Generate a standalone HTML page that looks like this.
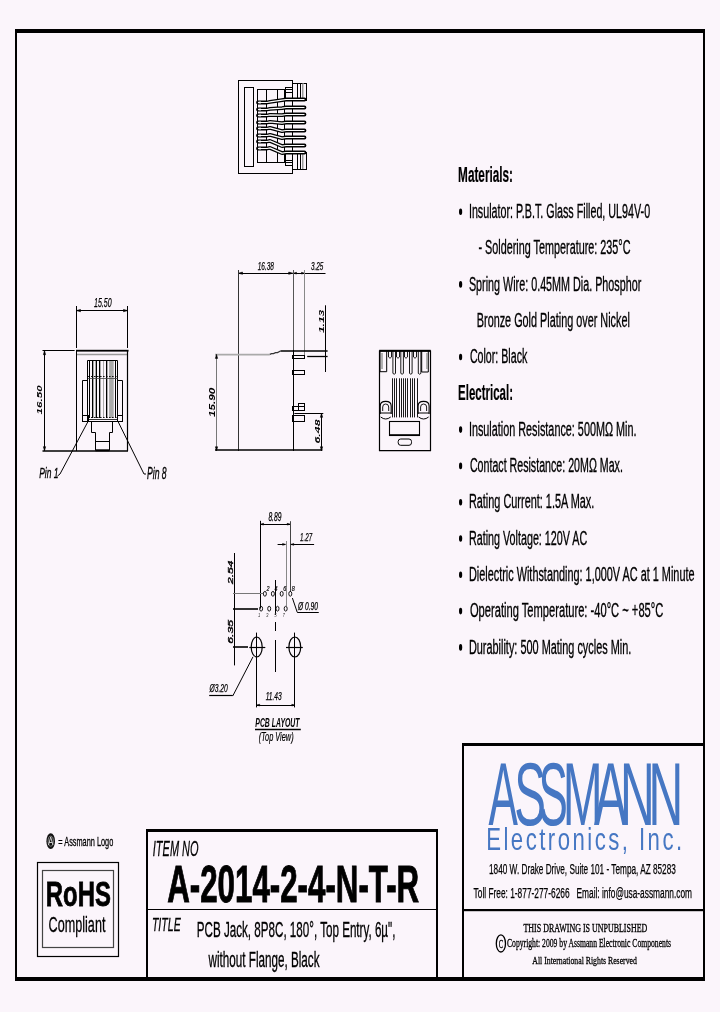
<!DOCTYPE html>
<html><head><meta charset="utf-8"><title>A-2014-2-4-N-T-R</title>
<style>html,body{margin:0;padding:0;background:#fbf5fb;}body{width:720px;height:1012px;overflow:hidden;}svg{display:block;will-change:transform}</style>
</head><body>
<svg width="720" height="1012" viewBox="0 0 720 1012">
<rect width="720" height="1012" fill="#fbf5fb"/>
<rect x="15" y="29" width="690" height="4" fill="#000"/>
<rect x="15" y="29" width="2" height="952" fill="#000"/>
<rect x="703" y="29" width="2" height="952" fill="#000"/>
<rect x="15" y="977" width="690" height="4" fill="#000"/>
<text x="458.1" y="181.7" font-family="Liberation Sans" font-size="21.22" font-weight="bold" font-style="normal" fill="#000" stroke="#000" stroke-width="0.2" textLength="54.88" lengthAdjust="spacingAndGlyphs" >Materials:</text>
<text x="468.9" y="218.0" font-family="Liberation Sans" font-size="19.77" font-weight="normal" font-style="normal" fill="#000" stroke="#000" stroke-width="0.35" textLength="181.23" lengthAdjust="spacingAndGlyphs" >Insulator: P.B.T. Glass Filled, UL94V-0</text>
<ellipse cx="460.6" cy="211.8" rx="1.6" ry="3.3" stroke="#000" stroke-width="0" fill="#000"/>
<text x="478.5" y="254.3" font-family="Liberation Sans" font-size="19.77" font-weight="normal" font-style="normal" fill="#000" stroke="#000" stroke-width="0.35" textLength="152.0" lengthAdjust="spacingAndGlyphs" >- Soldering Temperature: 235°C</text>
<text x="468.9" y="290.6" font-family="Liberation Sans" font-size="19.77" font-weight="normal" font-style="normal" fill="#000" stroke="#000" stroke-width="0.35" textLength="172.41" lengthAdjust="spacingAndGlyphs" >Spring Wire: 0.45MM Dia. Phosphor</text>
<ellipse cx="460.6" cy="284.40000000000003" rx="1.6" ry="3.3" stroke="#000" stroke-width="0" fill="#000"/>
<text x="476.8" y="326.9" font-family="Liberation Sans" font-size="19.77" font-weight="normal" font-style="normal" fill="#000" stroke="#000" stroke-width="0.35" textLength="153.03" lengthAdjust="spacingAndGlyphs" >Bronze Gold Plating over Nickel</text>
<text x="469.9" y="363.2" font-family="Liberation Sans" font-size="19.77" font-weight="normal" font-style="normal" fill="#000" stroke="#000" stroke-width="0.35" textLength="57.4" lengthAdjust="spacingAndGlyphs" >Color: Black</text>
<ellipse cx="460.6" cy="357.0" rx="1.6" ry="3.3" stroke="#000" stroke-width="0" fill="#000"/>
<text x="458.1" y="399.5" font-family="Liberation Sans" font-size="21.22" font-weight="bold" font-style="normal" fill="#000" stroke="#000" stroke-width="0.2" textLength="54.88" lengthAdjust="spacingAndGlyphs" >Electrical:</text>
<text x="468.9" y="435.8" font-family="Liberation Sans" font-size="19.77" font-weight="normal" font-style="normal" fill="#000" stroke="#000" stroke-width="0.35" textLength="167.62" lengthAdjust="spacingAndGlyphs" >Insulation Resistance: 500MΩ Min.</text>
<ellipse cx="460.6" cy="429.6" rx="1.6" ry="3.3" stroke="#000" stroke-width="0" fill="#000"/>
<text x="469.9" y="472.1" font-family="Liberation Sans" font-size="19.77" font-weight="normal" font-style="normal" fill="#000" stroke="#000" stroke-width="0.35" textLength="153.01" lengthAdjust="spacingAndGlyphs" >Contact Resistance: 20MΩ Max.</text>
<ellipse cx="460.6" cy="465.90000000000003" rx="1.6" ry="3.3" stroke="#000" stroke-width="0" fill="#000"/>
<text x="468.9" y="508.4" font-family="Liberation Sans" font-size="19.77" font-weight="normal" font-style="normal" fill="#000" stroke="#000" stroke-width="0.35" textLength="125.43" lengthAdjust="spacingAndGlyphs" >Rating Current: 1.5A Max.</text>
<ellipse cx="460.6" cy="502.2" rx="1.6" ry="3.3" stroke="#000" stroke-width="0" fill="#000"/>
<text x="468.9" y="544.7" font-family="Liberation Sans" font-size="19.77" font-weight="normal" font-style="normal" fill="#000" stroke="#000" stroke-width="0.35" textLength="118.41" lengthAdjust="spacingAndGlyphs" >Rating Voltage: 120V AC</text>
<ellipse cx="460.6" cy="538.5" rx="1.6" ry="3.3" stroke="#000" stroke-width="0" fill="#000"/>
<text x="468.9" y="581.0" font-family="Liberation Sans" font-size="19.77" font-weight="normal" font-style="normal" fill="#000" stroke="#000" stroke-width="0.35" textLength="225.62" lengthAdjust="spacingAndGlyphs" >Dielectric Withstanding: 1,000V AC at 1 Minute</text>
<ellipse cx="460.6" cy="574.8" rx="1.6" ry="3.3" stroke="#000" stroke-width="0" fill="#000"/>
<text x="469.9" y="617.3" font-family="Liberation Sans" font-size="19.77" font-weight="normal" font-style="normal" fill="#000" stroke="#000" stroke-width="0.35" textLength="193.4" lengthAdjust="spacingAndGlyphs" >Operating Temperature: -40°C ~ +85°C</text>
<ellipse cx="460.6" cy="611.0999999999999" rx="1.6" ry="3.3" stroke="#000" stroke-width="0" fill="#000"/>
<text x="468.9" y="653.6" font-family="Liberation Sans" font-size="19.77" font-weight="normal" font-style="normal" fill="#000" stroke="#000" stroke-width="0.35" textLength="162.42" lengthAdjust="spacingAndGlyphs" >Durability: 500 Mating cycles Min.</text>
<ellipse cx="460.6" cy="647.4" rx="1.6" ry="3.3" stroke="#000" stroke-width="0" fill="#000"/>
<rect x="238.5" y="80.5" width="54.0" height="93.0" stroke="#000" stroke-width="1" fill="none" />
<rect x="244.5" y="87.5" width="9.0" height="79.0" stroke="#000" stroke-width="1" fill="none" />
<rect x="257.5" y="89.5" width="35.0" height="73.0" stroke="#000" stroke-width="1" fill="none" />
<line x1="266.5" y1="89.5" x2="266.5" y2="162.5" stroke="#000" stroke-width="1" />
<line x1="277.5" y1="89.5" x2="277.5" y2="162.5" stroke="#000" stroke-width="1" />
<line x1="284.5" y1="89.5" x2="284.5" y2="162.5" stroke="#000" stroke-width="1" />
<rect x="292.5" y="83.5" width="14.0" height="17.0" stroke="#000" stroke-width="1" fill="none" />
<rect x="292.5" y="152.5" width="14.0" height="17.0" stroke="#000" stroke-width="1" fill="none" />
<line x1="297.5" y1="83.5" x2="297.5" y2="99" stroke="#000" stroke-width="1" />
<line x1="297.5" y1="153" x2="297.5" y2="169" stroke="#000" stroke-width="1" />
<line x1="300.5" y1="83.5" x2="300.5" y2="99" stroke="#000" stroke-width="1" />
<line x1="300.5" y1="153" x2="300.5" y2="169" stroke="#000" stroke-width="1" />
<line x1="302.5" y1="83.5" x2="302.5" y2="99" stroke="#999" stroke-width="1" />
<line x1="302.5" y1="153" x2="302.5" y2="169" stroke="#999" stroke-width="1" />
<line x1="303.5" y1="83.5" x2="303.5" y2="99" stroke="#ccc" stroke-width="1" />
<line x1="303.5" y1="153" x2="303.5" y2="169" stroke="#ccc" stroke-width="1" />
<line x1="285.5" y1="92.5" x2="285.5" y2="100" stroke="#000" stroke-width="1" />
<line x1="285.5" y1="153" x2="285.5" y2="160.5" stroke="#000" stroke-width="1" />
<rect x="285.5" y="87.5" width="7.0" height="5.0" stroke="#000" stroke-width="1" fill="none" />
<rect x="285.5" y="160.5" width="7.0" height="5.0" stroke="#000" stroke-width="1" fill="none" />
<path d="M258,102.5 H267 L270,101.9 L282,100.1 L286,99.5 H304.5" stroke="#000" stroke-width="3.8" fill="none" stroke-linecap="round" stroke-linejoin="round"/>
<path d="M258,102.5 H267 L270,101.9 L282,100.1 L286,99.5 H304.5" stroke="#fff" stroke-width="1.2" fill="none" stroke-linejoin="round"/>
<rect x="258.5" y="101.6" width="2.5" height="1.8" fill="#fff"/>
<path d="M258,109.5 H267 L270,108.9 L282,108.1 L286,107.5 H304.5" stroke="#000" stroke-width="3.8" fill="none" stroke-linecap="round" stroke-linejoin="round"/>
<path d="M258,109.5 H267 L270,108.9 L282,108.1 L286,107.5 H304.5" stroke="#fff" stroke-width="1.2" fill="none" stroke-linejoin="round"/>
<rect x="258.5" y="108.6" width="2.5" height="1.8" fill="#fff"/>
<path d="M258,115.5 H267 L270,114.9 L282,115.1 L286,114.5 H304.5" stroke="#000" stroke-width="3.8" fill="none" stroke-linecap="round" stroke-linejoin="round"/>
<path d="M258,115.5 H267 L270,114.9 L282,115.1 L286,114.5 H304.5" stroke="#fff" stroke-width="1.2" fill="none" stroke-linejoin="round"/>
<rect x="258.5" y="114.6" width="2.5" height="1.8" fill="#fff"/>
<path d="M258,122.5 H267 L270,121.9 L282,123.1 L286,122.5 H304.5" stroke="#000" stroke-width="3.8" fill="none" stroke-linecap="round" stroke-linejoin="round"/>
<path d="M258,122.5 H267 L270,121.9 L282,123.1 L286,122.5 H304.5" stroke="#fff" stroke-width="1.2" fill="none" stroke-linejoin="round"/>
<rect x="258.5" y="121.6" width="2.5" height="1.8" fill="#fff"/>
<path d="M258,128.5 H267 L270,127.9 L282,131.1 L286,130.5 H304.5" stroke="#000" stroke-width="3.8" fill="none" stroke-linecap="round" stroke-linejoin="round"/>
<path d="M258,128.5 H267 L270,127.9 L282,131.1 L286,130.5 H304.5" stroke="#fff" stroke-width="1.2" fill="none" stroke-linejoin="round"/>
<rect x="258.5" y="127.6" width="2.5" height="1.8" fill="#fff"/>
<path d="M258,135.5 H267 L270,134.9 L282,138.1 L286,137.5 H304.5" stroke="#000" stroke-width="3.8" fill="none" stroke-linecap="round" stroke-linejoin="round"/>
<path d="M258,135.5 H267 L270,134.9 L282,138.1 L286,137.5 H304.5" stroke="#fff" stroke-width="1.2" fill="none" stroke-linejoin="round"/>
<rect x="258.5" y="134.6" width="2.5" height="1.8" fill="#fff"/>
<path d="M258,141.5 H267 L270,140.9 L282,146.1 L286,145.5 H304.5" stroke="#000" stroke-width="3.8" fill="none" stroke-linecap="round" stroke-linejoin="round"/>
<path d="M258,141.5 H267 L270,140.9 L282,146.1 L286,145.5 H304.5" stroke="#fff" stroke-width="1.2" fill="none" stroke-linejoin="round"/>
<rect x="258.5" y="140.6" width="2.5" height="1.8" fill="#fff"/>
<path d="M258,148.5 H267 L270,147.9 L282,153.1 L286,152.5 H304.5" stroke="#000" stroke-width="3.8" fill="none" stroke-linecap="round" stroke-linejoin="round"/>
<path d="M258,148.5 H267 L270,147.9 L282,153.1 L286,152.5 H304.5" stroke="#fff" stroke-width="1.2" fill="none" stroke-linejoin="round"/>
<rect x="258.5" y="147.6" width="2.5" height="1.8" fill="#fff"/>
<text x="94" y="307.4" font-family="Liberation Sans" font-size="12.79" font-weight="normal" font-style="italic" fill="#000" stroke="#000" stroke-width="0.25" textLength="17.63" lengthAdjust="spacingAndGlyphs" >15.50</text>
<line x1="76.5" y1="310.5" x2="127.5" y2="310.5" stroke="#000" stroke-width="1" />
<path d="M76.5,310.6 L80.50,309.48 L80.50,311.72Z" stroke="#000" stroke-width="0.6" fill="#000" />
<path d="M127.5,310.6 L123.50,311.72 L123.50,309.48Z" stroke="#000" stroke-width="0.6" fill="#000" />
<line x1="76.5" y1="306" x2="76.5" y2="348" stroke="#000" stroke-width="1" />
<line x1="127.5" y1="306" x2="127.5" y2="348" stroke="#000" stroke-width="1" />
<rect x="76" y="349.8" width="52.5" height="1.8" fill="#000"/>
<line x1="42.5" y1="350.5" x2="74.6" y2="350.5" stroke="#000" stroke-width="1.2" />
<line x1="76.5" y1="354.5" x2="127.5" y2="354.5" stroke="#999" stroke-width="1.4" />
<line x1="76.5" y1="350" x2="76.5" y2="451" stroke="#000" stroke-width="1" />
<line x1="127.5" y1="350" x2="127.5" y2="451" stroke="#000" stroke-width="1.2" />
<line x1="42.5" y1="451" x2="128" y2="451" stroke="#000" stroke-width="1.6" />
<line x1="44.5" y1="350.7" x2="44.5" y2="450.7" stroke="#000" stroke-width="1" />
<path d="M44.5,350.7 L45.62,354.70 L43.38,354.70Z" stroke="#000" stroke-width="0.6" fill="#000" />
<path d="M44.5,450.7 L43.38,446.70 L45.62,446.70Z" stroke="#000" stroke-width="0.6" fill="#000" />
<text x="42.4" y="414.4" transform="rotate(-90 42.4 414.4)" font-family="Liberation Sans" font-size="7.7" font-weight="bold" font-style="italic" fill="#000" textLength="29.0" lengthAdjust="spacingAndGlyphs" >16.50</text>
<path d="M87.5,421.5 V360.5 H117.5 V421.5" stroke="#000" stroke-width="1" fill="none" />
<path d="M87.5,380.5 H82.5 V421.5 H122.5 V380.5 H117.5" stroke="#000" stroke-width="1" fill="none" />
<rect x="82.5" y="415.5" width="6.0" height="6.0" stroke="#000" stroke-width="1" fill="none" />
<rect x="117.5" y="415.5" width="5.0" height="6.0" stroke="#000" stroke-width="1" fill="none" />
<rect x="109.1" y="361" width="4.6" height="57" fill="#aaa"/>
<line x1="89.5" y1="361" x2="89.5" y2="418" stroke="#000" stroke-width="1" />
<line x1="92.5" y1="361" x2="92.5" y2="418" stroke="#000" stroke-width="1" />
<line x1="96.5" y1="361" x2="96.5" y2="418" stroke="#000" stroke-width="1" />
<line x1="99.5" y1="361" x2="99.5" y2="418" stroke="#000" stroke-width="1" />
<line x1="103.5" y1="361" x2="103.5" y2="418" stroke="#000" stroke-width="1" />
<line x1="106.5" y1="361" x2="106.5" y2="418" stroke="#000" stroke-width="1" />
<line x1="115.5" y1="361" x2="115.5" y2="418" stroke="#000" stroke-width="1" />
<line x1="93.5" y1="361" x2="93.5" y2="418" stroke="#aaa" stroke-width="1" />
<line x1="95.5" y1="361" x2="95.5" y2="418" stroke="#aaa" stroke-width="1" />
<line x1="100.5" y1="361" x2="100.5" y2="418" stroke="#aaa" stroke-width="1" />
<line x1="103.5" y1="361" x2="103.5" y2="418" stroke="#aaa" stroke-width="1" />
<line x1="107.5" y1="361" x2="107.5" y2="418" stroke="#aaa" stroke-width="1" />
<line x1="88" y1="376.5" x2="117.6" y2="376.5" stroke="#000" stroke-width="0.9" stroke-dasharray="1.6,1.4"/>
<line x1="88" y1="378.5" x2="117.6" y2="378.5" stroke="#444" stroke-width="0.8" />
<line x1="88" y1="417.5" x2="117.6" y2="417.5" stroke="#000" stroke-width="0.9" stroke-dasharray="1.6,1.4"/>
<line x1="88" y1="419.5" x2="117.6" y2="419.5" stroke="#000" stroke-width="0.8" />
<path d="M91.5,421.5 V432.5 H95.5 V450.5 M112.5,421.5 V432.5 H109.5 V450.5" stroke="#000" stroke-width="1" fill="none" />
<line x1="95.5" y1="441.5" x2="109.5" y2="441.5" stroke="#000" stroke-width="1" />
<rect x="95.5" y="449.3" width="14" height="2" fill="#000"/>
<text x="39.2" y="478.4" font-family="Liberation Sans" font-size="15.55" font-weight="normal" font-style="italic" fill="#000" stroke="#000" stroke-width="0.35" textLength="19.24" lengthAdjust="spacingAndGlyphs" >Pin 1</text>
<path d="M57.5,476 L60,474 L88,421.5" stroke="#000" stroke-width="1" fill="none" />
<text x="147" y="478.6" font-family="Liberation Sans" font-size="15.7" font-weight="normal" font-style="italic" fill="#000" stroke="#000" stroke-width="0.35" textLength="19.62" lengthAdjust="spacingAndGlyphs" >Pin 8</text>
<path d="M144,474 H146 M144,474 L117.7,420.8" stroke="#000" stroke-width="1" fill="none" />
<text x="257.7" y="270.3" font-family="Liberation Sans" font-size="11.63" font-weight="normal" font-style="italic" fill="#000" stroke="#000" stroke-width="0.25" textLength="16.2" lengthAdjust="spacingAndGlyphs" >16.38</text>
<text x="310.9" y="270.3" font-family="Liberation Sans" font-size="11.63" font-weight="normal" font-style="italic" fill="#000" stroke="#000" stroke-width="0.25" textLength="12.45" lengthAdjust="spacingAndGlyphs" >3.25</text>
<line x1="238.5" y1="273.5" x2="292.7" y2="273.5" stroke="#000" stroke-width="1" />
<path d="M238.5,273.2 L242.50,272.08 L242.50,274.32Z" stroke="#000" stroke-width="0.6" fill="#000" />
<path d="M292.7,273.2 L288.70,274.32 L288.70,272.08Z" stroke="#000" stroke-width="0.6" fill="#000" />
<line x1="293.5" y1="273.5" x2="304.5" y2="273.5" stroke="#000" stroke-width="1" />
<path d="M293.5,273.2 L296.50,272.36 L296.50,274.04Z" stroke="#000" stroke-width="0.6" fill="#000" />
<path d="M304.5,273.2 L301.50,274.04 L301.50,272.36Z" stroke="#000" stroke-width="0.6" fill="#000" />
<line x1="304.5" y1="273.5" x2="325.5" y2="273.5" stroke="#000" stroke-width="1" />
<line x1="238.5" y1="270" x2="238.5" y2="451" stroke="#333" stroke-width="1" />
<line x1="293.5" y1="270" x2="293.5" y2="350" stroke="#555" stroke-width="1" />
<line x1="293.5" y1="350" x2="293.5" y2="451" stroke="#000" stroke-width="1" />
<line x1="304.5" y1="270" x2="304.5" y2="357" stroke="#888" stroke-width="1" />
<path d="M215,354.6 H269.8" stroke="#aaa" stroke-width="1.8" fill="none" />
<path d="M269.8,354.4 L271.5,353.6 H273.5 L275.5,352.6 H277.5 L280.5,351 " stroke="#333" stroke-width="1.2" fill="none" />
<line x1="280.5" y1="351" x2="327.6" y2="351" stroke="#000" stroke-width="1.6" />
<rect x="292.5" y="355.5" width="12.0" height="3.0" stroke="#000" stroke-width="1" fill="none" />
<rect x="292.5" y="370.5" width="12.0" height="4.0" stroke="#000" stroke-width="1" fill="none" />
<rect x="292.5" y="406.5" width="12.0" height="4.0" stroke="#000" stroke-width="1" fill="none" />
<rect x="298.5" y="403.5" width="6.0" height="7.0" stroke="#000" stroke-width="1" fill="none" />
<rect x="292.5" y="415.5" width="12.0" height="6.0" stroke="#000" stroke-width="1" fill="none" />
<line x1="325.5" y1="305.3" x2="325.5" y2="372" stroke="#000" stroke-width="1" />
<line x1="307.2" y1="356.5" x2="327.6" y2="356.5" stroke="#000" stroke-width="1.3" />
<text x="324.1" y="333.1" transform="rotate(-90 324.1 333.1)" font-family="Liberation Sans" font-size="7.85" font-weight="bold" font-style="italic" fill="#000" textLength="23.4" lengthAdjust="spacingAndGlyphs" >1.13</text>
<line x1="294.4" y1="413.5" x2="323.3" y2="413.5" stroke="#000" stroke-width="1" />
<line x1="321.5" y1="413.3" x2="321.5" y2="450.8" stroke="#000" stroke-width="1" />
<path d="M321.5,413.3 L322.62,417.30 L320.38,417.30Z" stroke="#000" stroke-width="0.6" fill="#000" />
<path d="M321.5,450.8 L320.38,446.80 L322.62,446.80Z" stroke="#000" stroke-width="0.6" fill="#000" />
<text x="320.2" y="443.5" transform="rotate(-90 320.2 443.5)" font-family="Liberation Sans" font-size="7.41" font-weight="bold" font-style="italic" fill="#000" textLength="24.07" lengthAdjust="spacingAndGlyphs" >6.48</text>
<line x1="216.5" y1="354.4" x2="216.5" y2="450.8" stroke="#777" stroke-width="1" />
<path d="M216.5,354.4 L217.62,358.40 L215.38,358.40Z" stroke="#000" stroke-width="0.6" fill="#000" />
<path d="M216.5,450.8 L215.38,446.80 L217.62,446.80Z" stroke="#000" stroke-width="0.6" fill="#000" />
<text x="214.9" y="416.9" transform="rotate(-90 214.9 416.9)" font-family="Liberation Sans" font-size="8.43" font-weight="bold" font-style="italic" fill="#000" textLength="29.21" lengthAdjust="spacingAndGlyphs" >15.90</text>
<line x1="215" y1="450" x2="322.4" y2="450" stroke="#000" stroke-width="1.6" />
<path d="M379.5,351 H430.5 V450.7 H379.5 Z" stroke="#000" stroke-width="1.2" fill="none" />
<rect x="379.2" y="349.8" width="51.5" height="2" fill="#000"/>
<path d="M380,351 V371.7 H386.7 V351" stroke="#000" stroke-width="1" fill="none" />
<line x1="382" y1="353" x2="382" y2="369" stroke="#999" stroke-width="1.5" />
<path d="M421.7,351 V372 H428.3 V351" stroke="#000" stroke-width="1" fill="none" />
<line x1="427" y1="353" x2="427" y2="369" stroke="#999" stroke-width="1.5" />
<path d="M392.9,351 V373.4 Q394.2,375 395.5,373.4 V351" stroke="#000" stroke-width="0.9" fill="none" />
<path d="M400.8,351 V373.4 Q402.1,375 403.40000000000003,373.4 V351" stroke="#000" stroke-width="0.9" fill="none" />
<path d="M409.5,351 V373.4 Q410.8,375 412.1,373.4 V351" stroke="#000" stroke-width="0.9" fill="none" />
<path d="M418.3,351 V373.4 Q419.6,375 420.90000000000003,373.4 V351" stroke="#000" stroke-width="0.9" fill="none" />
<path d="M388.5,351 V357 Q390,359.5 391.5,357 V351" stroke="#000" stroke-width="0.9" fill="none" />
<path d="M396.5,351 V357 Q398,359.5 399.5,357 V351" stroke="#000" stroke-width="0.9" fill="none" />
<path d="M404.5,351 V357 Q406,359.5 407.5,357 V351" stroke="#000" stroke-width="0.9" fill="none" />
<path d="M413.5,351 V357 Q415,359.5 416.5,357 V351" stroke="#000" stroke-width="0.9" fill="none" />
<line x1="392.5" y1="378.3" x2="392.5" y2="417.4" stroke="#000" stroke-width="0.9" />
<line x1="394.5" y1="378.3" x2="394.5" y2="417.4" stroke="#000" stroke-width="0.9" />
<line x1="396.5" y1="378.3" x2="396.5" y2="417.4" stroke="#000" stroke-width="0.9" />
<line x1="399.5" y1="378.3" x2="399.5" y2="417.4" stroke="#000" stroke-width="0.9" />
<line x1="401.5" y1="378.3" x2="401.5" y2="417.4" stroke="#000" stroke-width="0.9" />
<line x1="403.5" y1="378.3" x2="403.5" y2="417.4" stroke="#000" stroke-width="0.9" />
<line x1="405.5" y1="378.3" x2="405.5" y2="417.4" stroke="#000" stroke-width="0.9" />
<line x1="407.5" y1="378.3" x2="407.5" y2="417.4" stroke="#000" stroke-width="0.9" />
<line x1="410.5" y1="378.3" x2="410.5" y2="417.4" stroke="#000" stroke-width="0.9" />
<line x1="412.5" y1="378.3" x2="412.5" y2="417.4" stroke="#000" stroke-width="0.9" />
<line x1="414.5" y1="378.3" x2="414.5" y2="417.4" stroke="#000" stroke-width="0.9" />
<line x1="417.5" y1="378.3" x2="417.5" y2="417.4" stroke="#000" stroke-width="0.9" />
<path d="M380.2,414 V406 Q380.2,401.4 385.7,401.4 Q391.2,401.4 391.2,406 V414" stroke="#000" stroke-width="1.1" fill="none" />
<path d="M382.7,411 V407 Q382.7,404 385.7,404 Q388.7,404 388.7,407 V411" stroke="#000" stroke-width="0.9" fill="none" />
<path d="M380.2,413 H391.2 M380.7,417 Q385.7,421 390.7,417" stroke="#000" stroke-width="1" fill="none" />
<path d="M418.1,414 V406 Q418.1,401.4 423.6,401.4 Q429.1,401.4 429.1,406 V414" stroke="#000" stroke-width="1.1" fill="none" />
<path d="M420.6,411 V407 Q420.6,404 423.6,404 Q426.6,404 426.6,407 V411" stroke="#000" stroke-width="0.9" fill="none" />
<path d="M418.1,413 H429.1 M418.6,417 Q423.6,421 428.6,417" stroke="#000" stroke-width="1" fill="none" />
<rect x="389.5" y="421.5" width="30.0" height="14.0" stroke="#000" stroke-width="1.1" fill="none" />
<line x1="389.6" y1="435" x2="419.8" y2="435" stroke="#000" stroke-width="1.6" />
<rect x="398.2" y="439" width="13.3" height="6.3" rx="2.5" stroke="#000" stroke-width="1" fill="none"/>
<text x="268.4" y="521.1" font-family="Liberation Sans" font-size="11.92" font-weight="normal" font-style="italic" fill="#000" stroke="#000" stroke-width="0.25" textLength="13.04" lengthAdjust="spacingAndGlyphs" >8.89</text>
<line x1="260.6" y1="524.5" x2="290.2" y2="524.5" stroke="#000" stroke-width="1" />
<path d="M260.6,524.2 L263.60,523.36 L263.60,525.04Z" stroke="#000" stroke-width="0.6" fill="#000" />
<path d="M290.2,524.2 L287.20,525.04 L287.20,523.36Z" stroke="#000" stroke-width="0.6" fill="#000" />
<line x1="260.5" y1="520.8" x2="260.5" y2="608.6" stroke="#000" stroke-width="1" />
<line x1="290.5" y1="521.2" x2="290.5" y2="592" stroke="#444" stroke-width="1" />
<text x="300.1" y="541.1" font-family="Liberation Sans" font-size="11.19" font-weight="normal" font-style="italic" fill="#000" stroke="#000" stroke-width="0.25" textLength="12.04" lengthAdjust="spacingAndGlyphs" >1.27</text>
<line x1="277.6" y1="544.5" x2="285.2" y2="544.5" stroke="#000" stroke-width="1" />
<path d="M285.6,544.4 L282.60,545.24 L282.60,543.56Z" stroke="#000" stroke-width="0.6" fill="#000" />
<line x1="291.1" y1="544.5" x2="314.1" y2="544.5" stroke="#000" stroke-width="1" />
<path d="M290.8,544.4 L293.80,543.56 L293.80,545.24Z" stroke="#000" stroke-width="0.6" fill="#000" />
<line x1="286.5" y1="541" x2="286.5" y2="606" stroke="#888" stroke-width="1" />
<text x="232.6" y="584" transform="rotate(-90 232.6 584)" font-family="Liberation Sans" font-size="6.98" font-weight="normal" font-style="italic" fill="#000" stroke="#000" stroke-width="0.35" textLength="23.42" lengthAdjust="spacingAndGlyphs" >2.54</text>
<line x1="234.5" y1="553" x2="234.5" y2="665.4" stroke="#000" stroke-width="1" />
<line x1="233" y1="593.5" x2="263" y2="593.5" stroke="#777" stroke-width="1" />
<line x1="233" y1="609" x2="258" y2="609" stroke="#000" stroke-width="1.6" />
<text x="232.6" y="643.8" transform="rotate(-90 232.6 643.8)" font-family="Liberation Sans" font-size="6.98" font-weight="normal" font-style="italic" fill="#000" stroke="#000" stroke-width="0.35" textLength="23.81" lengthAdjust="spacingAndGlyphs" >6.35</text>
<line x1="233" y1="647" x2="248" y2="647" stroke="#000" stroke-width="1.6" />
<ellipse cx="256.7" cy="647" rx="5.5" ry="10" stroke="#000" stroke-width="1.2" fill="none"/>
<ellipse cx="294.8" cy="647" rx="5.9" ry="10" stroke="#000" stroke-width="1.2" fill="none"/>
<line x1="249.3" y1="647.5" x2="265.3" y2="647.5" stroke="#000" stroke-width="1.2" />
<line x1="256.5" y1="632.6" x2="256.5" y2="707.4" stroke="#000" stroke-width="1" />
<line x1="286" y1="647.5" x2="302.8" y2="647.5" stroke="#000" stroke-width="1.2" />
<line x1="294.5" y1="632.6" x2="294.5" y2="707.4" stroke="#000" stroke-width="1" />
<line x1="275.5" y1="580" x2="275.5" y2="615" stroke="#000" stroke-width="1" />
<line x1="275.5" y1="622" x2="275.5" y2="631" stroke="#000" stroke-width="1" />
<line x1="275.5" y1="640" x2="275.5" y2="672" stroke="#000" stroke-width="1" />
<ellipse cx="264.9" cy="593.8" rx="1.5" ry="2.4" stroke="#000" stroke-width="0.9" fill="none"/>
<text x="266.4" y="590.6" font-family="Liberation Sans" font-size="7.5" font-style="italic" textLength="3" lengthAdjust="spacingAndGlyphs" stroke="#000" stroke-width="0.2">2</text>
<ellipse cx="272.9" cy="593.8" rx="1.5" ry="2.4" stroke="#000" stroke-width="0.9" fill="none"/>
<text x="274.4" y="590.6" font-family="Liberation Sans" font-size="7.5" font-style="italic" textLength="3" lengthAdjust="spacingAndGlyphs" stroke="#000" stroke-width="0.2">4</text>
<ellipse cx="281.7" cy="593.8" rx="1.5" ry="2.4" stroke="#000" stroke-width="0.9" fill="none"/>
<text x="283.2" y="590.6" font-family="Liberation Sans" font-size="7.5" font-style="italic" textLength="3" lengthAdjust="spacingAndGlyphs" stroke="#000" stroke-width="0.2">6</text>
<ellipse cx="290.3" cy="593.8" rx="1.5" ry="2.4" stroke="#000" stroke-width="0.9" fill="none"/>
<text x="291.8" y="590.6" font-family="Liberation Sans" font-size="7.5" font-style="italic" textLength="3" lengthAdjust="spacingAndGlyphs" stroke="#000" stroke-width="0.2">8</text>
<ellipse cx="261.1" cy="608.7" rx="1.5" ry="2.4" stroke="#000" stroke-width="0.9" fill="none"/>
<text x="257.90000000000003" y="616.8" font-family="Liberation Sans" font-size="6" font-style="italic" textLength="2.4" lengthAdjust="spacingAndGlyphs" fill="#444">1</text>
<ellipse cx="269.2" cy="608.7" rx="1.5" ry="2.4" stroke="#000" stroke-width="0.9" fill="none"/>
<text x="266.0" y="616.8" font-family="Liberation Sans" font-size="6" font-style="italic" textLength="2.4" lengthAdjust="spacingAndGlyphs" fill="#444">3</text>
<ellipse cx="277.5" cy="608.7" rx="1.5" ry="2.4" stroke="#000" stroke-width="0.9" fill="none"/>
<text x="274.3" y="616.8" font-family="Liberation Sans" font-size="6" font-style="italic" textLength="2.4" lengthAdjust="spacingAndGlyphs" fill="#444">5</text>
<ellipse cx="285.7" cy="608.7" rx="1.5" ry="2.4" stroke="#000" stroke-width="0.9" fill="none"/>
<text x="282.5" y="616.8" font-family="Liberation Sans" font-size="6" font-style="italic" textLength="2.4" lengthAdjust="spacingAndGlyphs" fill="#444">7</text>
<text x="298" y="609.8" font-family="Liberation Sans" font-size="10.03" font-weight="normal" font-style="italic" fill="#000" stroke="#000" stroke-width="0.25" textLength="20.0" lengthAdjust="spacingAndGlyphs" >Ø 0.90</text>
<line x1="297.2" y1="612.5" x2="318.75" y2="612.5" stroke="#000" stroke-width="1" />
<line x1="297.2" y1="612.2" x2="292.4" y2="598" stroke="#000" stroke-width="1" />
<text x="265.7" y="700.2" font-family="Liberation Sans" font-size="11.05" font-weight="normal" font-style="italic" fill="#000" stroke="#000" stroke-width="0.25" textLength="16.0" lengthAdjust="spacingAndGlyphs" >11.43</text>
<line x1="256.7" y1="705.5" x2="294.8" y2="705.5" stroke="#000" stroke-width="1" />
<path d="M256.7,705.1 L259.70,704.26 L259.70,705.94Z" stroke="#000" stroke-width="0.6" fill="#000" />
<path d="M294.8,705.1 L291.80,705.94 L291.80,704.26Z" stroke="#000" stroke-width="0.6" fill="#000" />
<text x="209.5" y="691.8" font-family="Liberation Sans" font-size="11.05" font-weight="normal" font-style="italic" fill="#000" stroke="#000" stroke-width="0.25" textLength="18.22" lengthAdjust="spacingAndGlyphs" >Ø3.20</text>
<line x1="209.2" y1="695.5" x2="232.8" y2="695.5" stroke="#000" stroke-width="1.2" />
<line x1="232.8" y1="695.9" x2="253" y2="656.8" stroke="#000" stroke-width="1" />
<text x="255.3" y="727" font-family="Liberation Sans" font-size="12.35" font-weight="bold" font-style="italic" fill="#000" textLength="44.2" lengthAdjust="spacingAndGlyphs" >PCB LAYOUT</text>
<line x1="255" y1="729.5" x2="300.8" y2="729.5" stroke="#000" stroke-width="1.4" />
<text x="258.8" y="741" font-family="Liberation Sans" font-size="13.08" font-weight="normal" font-style="italic" fill="#000" stroke="#000" stroke-width="0.2" textLength="34.81" lengthAdjust="spacingAndGlyphs" >(Top View)</text>
<ellipse cx="50.7" cy="841.2" rx="4.3" ry="7.9" stroke="#000" stroke-width="0" fill="#111"/>
<ellipse cx="50.7" cy="841.2" rx="2.6" ry="5" stroke="#999" stroke-width="0.8" fill="none"/>
<path d="M48.5,845 L50.7,837 L52.9,845 M49.2,842.5 H52.2" stroke="#ddd" stroke-width="0.9" fill="none" />
<text x="58.3" y="845.8" font-family="Liberation Sans" font-size="12.94" font-weight="normal" font-style="normal" fill="#000" stroke="#000" stroke-width="0.3" textLength="55.0" lengthAdjust="spacingAndGlyphs" >= Assmann Logo</text>
<rect x="37.5" y="862.5" width="81.0" height="94.0" stroke="#000" stroke-width="1.2" fill="none" />
<rect x="42.5" y="870.5" width="71.0" height="77.0" stroke="#444" stroke-width="1.2" fill="none" />
<text x="45.8" y="905.9" font-family="Liberation Sans" font-size="35.61" font-weight="bold" font-style="normal" fill="#000" stroke="#000" stroke-width="0.8" textLength="65.07" lengthAdjust="spacingAndGlyphs" >RoHS</text>
<text x="48.6" y="932.4" font-family="Liberation Sans" font-size="21.22" font-weight="normal" font-style="normal" fill="#000" stroke="#000" stroke-width="0.3" textLength="56.82" lengthAdjust="spacingAndGlyphs" >Compliant</text>
<rect x="146" y="829" width="292" height="3" fill="#000"/>
<rect x="146" y="829" width="2" height="150" fill="#000"/>
<rect x="436" y="829" width="2" height="150" fill="#000"/>
<line x1="146" y1="909.5" x2="438" y2="909.5" stroke="#000" stroke-width="1.2" />
<text x="152.8" y="855.8" font-family="Liberation Sans" font-size="21.51" font-weight="normal" font-style="italic" fill="#000" stroke="#000" stroke-width="0.3" textLength="45.8" lengthAdjust="spacingAndGlyphs" >ITEM NO</text>
<text x="167.2" y="901.7" font-family="Liberation Sans" font-size="52.33" font-weight="bold" font-style="normal" fill="#000" stroke="#000" stroke-width="1" textLength="252.0" lengthAdjust="spacingAndGlyphs" >A-2014-2-4-N-T-R</text>
<text x="151.9" y="930.75" font-family="Liberation Sans" font-size="19.19" font-weight="normal" font-style="italic" fill="#000" stroke="#000" stroke-width="0.3" textLength="28.85" lengthAdjust="spacingAndGlyphs" >TITLE</text>
<text x="196.8" y="936.8" font-family="Liberation Sans" font-size="22.67" font-weight="normal" font-style="normal" fill="#000" stroke="#000" stroke-width="0.35" textLength="198.61" lengthAdjust="spacingAndGlyphs" >PCB Jack, 8P8C, 180°, Top Entry, 6µ",</text>
<text x="208.5" y="966.8" font-family="Liberation Sans" font-size="22.53" font-weight="normal" font-style="normal" fill="#000" stroke="#000" stroke-width="0.35" textLength="111.0" lengthAdjust="spacingAndGlyphs" >without Flange, Black</text>
<rect x="462" y="743" width="243" height="3" fill="#000"/>
<rect x="462" y="743" width="2" height="236" fill="#000"/>
<rect x="462" y="909" width="243" height="2.2" fill="#000"/>
<text x="488.5" y="824.6" font-family="Liberation Sans" font-size="88.37" font-weight="normal" font-style="normal" fill="#4677c3" textLength="29.4" lengthAdjust="spacingAndGlyphs" >A</text>
<text x="514.3" y="824.6" font-family="Liberation Sans" font-size="88.37" font-weight="normal" font-style="normal" fill="#4677c3" textLength="31.75" lengthAdjust="spacingAndGlyphs" >S</text>
<text x="538.6" y="824.6" font-family="Liberation Sans" font-size="88.37" font-weight="normal" font-style="normal" fill="#4677c3" textLength="29.33" lengthAdjust="spacingAndGlyphs" >S</text>
<text x="562.7" y="824.6" font-family="Liberation Sans" font-size="88.37" font-weight="normal" font-style="normal" fill="#4677c3" textLength="39.91" lengthAdjust="spacingAndGlyphs" >M</text>
<text x="594" y="824.6" font-family="Liberation Sans" font-size="88.37" font-weight="normal" font-style="normal" fill="#4677c3" textLength="33.22" lengthAdjust="spacingAndGlyphs" >A</text>
<text x="620" y="824.6" font-family="Liberation Sans" font-size="88.37" font-weight="normal" font-style="normal" fill="#4677c3" textLength="34.71" lengthAdjust="spacingAndGlyphs" >N</text>
<text x="648.5" y="824.6" font-family="Liberation Sans" font-size="88.37" font-weight="normal" font-style="normal" fill="#4677c3" textLength="34.74" lengthAdjust="spacingAndGlyphs" >N</text>
<text x="486.2" y="850.4" font-family="Liberation Sans" font-size="31.4" font-weight="normal" font-style="normal" fill="#4677c3" textLength="198.4" lengthAdjust="spacingAndGlyphs" letter-spacing="3.5">Electronics, Inc.</text>
<text x="489" y="873.7" font-family="Liberation Sans" font-size="14.39" font-weight="normal" font-style="normal" fill="#000" stroke="#000" stroke-width="0.25" textLength="186.81" lengthAdjust="spacingAndGlyphs" >1840 W. Drake Drive, Suite 101 - Tempa, AZ 85283</text>
<text x="473.6" y="898.4" font-family="Liberation Sans" font-size="13.95" font-weight="normal" font-style="normal" fill="#000" stroke="#000" stroke-width="0.25" textLength="218.4" lengthAdjust="spacingAndGlyphs" >Toll Free: 1-877-277-6266 &#160; Email: info@usa-assmann.com</text>
<text x="523.5" y="931.6" font-family="Liberation Serif" font-size="12.21" font-weight="normal" font-style="normal" fill="#000" stroke="#000" stroke-width="0.35" textLength="123.8" lengthAdjust="spacingAndGlyphs" >THIS DRAWING IS UNPUBLISHED</text>
<ellipse cx="500.9" cy="943.4" rx="4.6" ry="8.6" stroke="#000" stroke-width="1.3" fill="none"/>
<text x="498.75" y="947.7" font-family="Liberation Serif" font-size="13.44" font-weight="normal" font-style="normal" fill="#000" stroke="#000" stroke-width="0.3" textLength="4.47" lengthAdjust="spacingAndGlyphs" >C</text>
<text x="507" y="947.4" font-family="Liberation Serif" font-size="11.91" font-weight="normal" font-style="normal" fill="#000" stroke="#000" stroke-width="0.3" textLength="164.0" lengthAdjust="spacingAndGlyphs" >Copyright: 2009 by Assmann Electronic Components</text>
<text x="532.3" y="963.7" font-family="Liberation Serif" font-size="11.3" font-weight="normal" font-style="normal" fill="#000" stroke="#000" stroke-width="0.3" textLength="104.6" lengthAdjust="spacingAndGlyphs" >All International Rights Reserved</text>
</svg>
</body></html>
